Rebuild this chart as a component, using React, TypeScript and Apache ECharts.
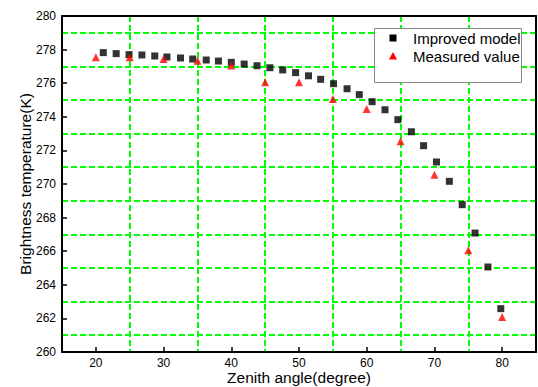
import React, { useEffect, useRef } from "react";
import * as echarts from "echarts";

const modelAngles = [21.1, 23.0, 24.9, 26.8, 28.7, 30.5, 32.5, 34.3, 36.3, 38.1, 40.0, 41.9, 43.8, 45.7, 47.6, 49.5, 51.4, 53.2, 55.1, 57.1, 58.9, 60.8, 62.7, 64.6, 66.6, 68.4, 70.3, 72.2, 74.1, 76.0, 77.9, 79.8];
const modelValues = [277.82, 277.76, 277.7, 277.68, 277.62, 277.56, 277.5, 277.44, 277.38, 277.32, 277.24, 277.14, 277.04, 276.92, 276.79, 276.63, 276.44, 276.23, 275.97, 275.67, 275.32, 274.9, 274.42, 273.83, 273.11, 272.28, 271.31, 270.16, 268.77, 267.08, 265.06, 262.58];
const measuredAngles = [20, 25, 30, 35, 40, 45, 50, 55, 60, 65, 70, 75, 80];
const measuredValues = [277.54, 277.54, 277.44, 277.34, 277.06, 276.05, 276.05, 275.06, 274.46, 272.54, 270.55, 266.05, 262.08];
const seriesNames = ["Improved model", "Measured value"];
const xTitle = "Zenith angle(degree)";
const yTitle = "Brightness temperature(K)";

const FONT = "'Liberation Sans', Arial, sans-serif";
const gridLine = { show: true, lineStyle: { color: "#00ff00", width: 2, type: [6, 3] as any } };

export default function App() {
  const ref = useRef<HTMLDivElement>(null);
  useEffect(() => {
    if (!ref.current) return;
    const chart = echarts.init(ref.current, null, { renderer: "svg" });
    chart.setOption({
      animation: false,
      backgroundColor: "#ffffff",
      textStyle: { fontFamily: FONT },
      grid: { left: 62, top: 16, right: 2, bottom: 35, containLabel: false, outerBoundsMode: "none" },
      graphic: [
        {
          type: "rect",
          left: 374,
          top: 28,
          z: 100,
          shape: { width: 147, height: 54 },
          style: { fill: "#ffffff", stroke: "#888888", lineWidth: 1 },
        },
        {
          type: "rect",
          z: 101,
          shape: { x: 389.5, y: 34.5, width: 7, height: 7 },
          style: { fill: "#000000" },
        },
        {
          type: "polygon",
          z: 101,
          shape: { points: [[393, 52], [397, 59.5], [389, 59.5]] },
          style: { fill: "#ff0000" },
        },
        {
          type: "text",
          z: 101,
          x: 413,
          y: 38,
          style: {
            text: seriesNames[0],
            fontSize: 15,
            fontFamily: FONT,
            fill: "#000",
            verticalAlign: "middle",
          },
        },
        {
          type: "text",
          z: 101,
          x: 413,
          y: 56,
          style: {
            text: seriesNames[1],
            fontSize: 15,
            fontFamily: FONT,
            fill: "#000",
            verticalAlign: "middle",
          },
        },
      ],
      xAxis: [
        {
          type: "value",
          min: 15,
          max: 85,
          splitNumber: 7,
          position: "bottom",
          name: xTitle,
          nameLocation: "middle",
          nameGap: 17,
          nameMoveOverlap: false,
          nameTextStyle: { fontSize: 15.5, lineHeight: 16, color: "#000", fontFamily: FONT },
          axisLine: { show: true, onZero: false, lineStyle: { color: "#000", width: 2 } },
          axisTick: { show: true, inside: true, length: 5, lineStyle: { color: "#000", width: 1.5 } },
          axisLabel: {
            fontSize: 12,
            lineHeight: 12,
            color: "#000",
            margin: 5,
            fontFamily: FONT,
            formatter: (v: number) => (v % 10 === 0 ? String(v) : ""),
          },
          splitLine: { show: false },
        },
        {
          type: "value",
          min: 15,
          max: 85,
          interval: 10,
          position: "top",
          axisLine: { show: true, onZero: false, lineStyle: { color: "#000", width: 2 } },
          axisTick: { show: false },
          axisLabel: { show: false },
          splitLine: { ...gridLine, showMinLine: false, showMaxLine: false },
        },
      ],
      yAxis: [
        {
          type: "value",
          min: 260,
          max: 280,
          interval: 2,
          position: "left",
          name: yTitle,
          nameLocation: "middle",
          nameGap: 29,
          nameMoveOverlap: false,
          nameTextStyle: { fontSize: 15.5, color: "#000", fontFamily: FONT },
          axisLine: { show: true, onZero: false, lineStyle: { color: "#000", width: 2 } },
          axisTick: { show: true, inside: true, length: 5, lineStyle: { color: "#000", width: 1.5 } },
          axisLabel: { fontSize: 12, color: "#000", margin: 6, fontFamily: FONT },
          splitLine: { show: false },
          minorTick: { show: false, splitNumber: 2 },
          minorSplitLine: gridLine,
        },
        {
          type: "value",
          min: 260,
          max: 280,
          interval: 2,
          position: "right",
          axisLine: { show: true, onZero: false, lineStyle: { color: "#000", width: 2 } },
          axisTick: { show: false },
          axisLabel: { show: false },
          splitLine: { show: false },
        },
      ],
      series: [
        {
          name: seriesNames[0],
          type: "scatter",
          xAxisIndex: 0,
          yAxisIndex: 0,
          symbol: "rect",
          symbolSize: 7,
          itemStyle: { color: "#000000" },
          data: modelAngles.map((x, i) => [x, modelValues[i]]),
          z: 3,
        },
        {
          name: seriesNames[1],
          type: "scatter",
          xAxisIndex: 0,
          yAxisIndex: 0,
          symbol: "triangle",
          symbolSize: 8,
          itemStyle: { color: "#ff0000" },
          data: measuredAngles.map((x, i) => [x, measuredValues[i]]),
          z: 4,
        },
      ],
    });
    return () => chart.dispose();
  }, []);
  return (
    <div
      ref={ref}
      style={{ position: "fixed", left: 0, top: 0, width: 538, height: 387, background: "#fff" }}
    />
  );
}
